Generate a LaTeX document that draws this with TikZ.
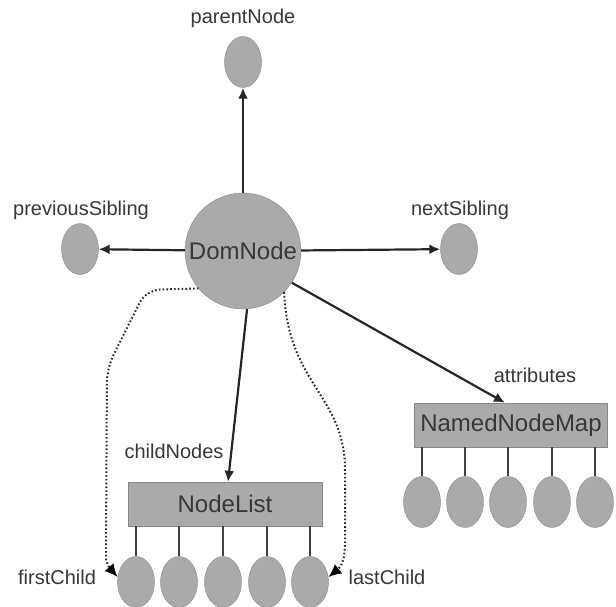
\documentclass[tikz,border=0pt]{standalone}
\usepackage{fontspec}
\setmainfont{Liberation Sans}
\usetikzlibrary{arrows.meta,positioning,shapes.geometric,calc}
\definecolor{nodefill}{RGB}{170,170,170}
\definecolor{nodeedge}{RGB}{135,135,135}
\definecolor{labeltext}{RGB}{55,55,55}
\tikzset{
  dom/main/.style={draw=nodeedge, fill=nodefill, circle, minimum size=116pt, inner sep=0pt, font=\fontsize{24}{28}\selectfont, text=labeltext},
  dom/leaf/.style={draw=nodeedge, fill=nodefill, ellipse, minimum width=37pt, minimum height=51pt, inner sep=0pt},
  dom/list/.style={draw=nodeedge, fill=nodefill, rectangle, minimum height=44pt, inner sep=0pt, font=\fontsize{24}{28}\selectfont, text=labeltext},
  dom/label/.style={font=\fontsize{20}{24}\selectfont, text=labeltext, inner sep=0pt},
  dom/link/.style={line width=2.2pt, black!85, -{Latex[length=11pt,width=10pt]}},
  dom/stem/.style={line width=2pt, black!75},
  dom/dotlink/.style={line width=2pt, dash pattern=on 1.6pt off 2.2pt, black!85, -{Latex[length=13pt,width=12pt,black]}}
}

\begin{document}
\begin{tikzpicture}[x=1pt, y=-1pt]
  \useasboundingbox (0,0) rectangle (616,606);

  \node[dom/main] (dom) at (243,251) {DomNode};
  \node[dom/leaf] (parent) at (243,62) {};
  \node[dom/leaf] (prev) at (80,249) {};
  \node[dom/leaf] (next) at (459,249) {};
  \node[dom/label] at (243,18) {parentNode};
  \node[dom/label] at (81,210) {previousSibling};
  \node[dom/label] at (460,210) {nextSibling};

  \draw[dom/link] (dom) -- (parent);
  \draw[dom/link] (dom) -- (prev);
  \draw[dom/link] (dom) -- (next);

  % child list
  \node[dom/list, minimum width=194pt] (list) at (225,504) {NodeList};
  \node[dom/leaf] (c1) at (136,582) {};
  \node[dom/leaf] (c2) at (179,582) {};
  \node[dom/leaf] (c3) at (223,582) {};
  \node[dom/leaf] (c4) at (267,582) {};
  \node[dom/leaf] (c5) at (310,582) {};
  \draw[dom/stem] (c1.north |- list.south) -- (c1);
  \draw[dom/stem] (c2.north |- list.south) -- (c2);
  \draw[dom/stem] (c3.north |- list.south) -- (c3);
  \draw[dom/stem] (c4.north |- list.south) -- (c4);
  \draw[dom/stem] (c5.north |- list.south) -- (c5);
  \draw[dom/link] (dom.-86) -- ($(list.north)+(3,0)$);
  \node[dom/label] at (174,451) {childNodes};
  \node[dom/label] at (57,577) {firstChild};
  \node[dom/label] at (387,577) {lastChild};

  \draw[dom/dotlink, rounded corners=14pt] (dom.220) -- (146,290) -- (107,368) -- (106,545) .. controls (106,560) and (108,566) .. (c1.165);
  \draw[dom/dotlink] (dom.-45) .. controls (288,385) and (345,395) .. (345,470) -- (345,542) .. controls (345,558) and (342,566) .. (c5.15);

  % attribute map
  \node[dom/list, minimum width=193pt] (map) at (511,425) {NamedNodeMap};
  \node[dom/leaf] (a1) at (422,502) {};
  \node[dom/leaf] (a2) at (465,502) {};
  \node[dom/leaf] (a3) at (508,502) {};
  \node[dom/leaf] (a4) at (552,502) {};
  \node[dom/leaf] (a5) at (595,502) {};
  \draw[dom/stem] (a1.north |- map.south) -- (a1);
  \draw[dom/stem] (a2.north |- map.south) -- (a2);
  \draw[dom/stem] (a3.north |- map.south) -- (a3);
  \draw[dom/stem] (a4.north |- map.south) -- (a4);
  \draw[dom/stem] (a5.north |- map.south) -- (a5);
  \draw[dom/link] (dom.-33) -- ($(map.north)+(-6,0)$);
  \node[dom/label] at (535,375) {attributes};
\end{tikzpicture}
\end{document}
